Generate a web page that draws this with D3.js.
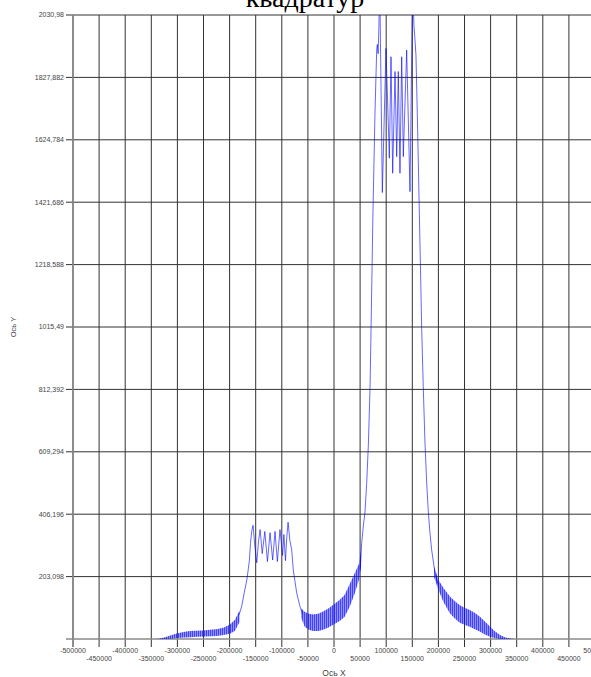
<!DOCTYPE html>
<html>
<head>
<meta charset="utf-8">
<script src="https://cdn.jsdelivr.net/npm/d3@7"></script>
<style>
body { margin: 0; background: #fff; }
svg { display: block; }
</style>
</head>
<body>
<div id="chart"></div>
<script>

var xTicks = [-500000, -450000, -400000, -350000, -300000, -250000, -200000, -150000, -100000, -50000,
              0, 50000, 100000, 150000, 200000, 250000, 300000, 350000, 400000, 450000, 500000];

var yMax = 2030.98;
var yTicks = [203.098, 406.196, 609.294, 812.392, 1015.49, 1218.588, 1421.686, 1624.784, 1827.882, 2030.98];
var yTickLabels = ['203,098', '406,196', '609,294', '812,392', '1015,49', '1218,588', '1421,686', '1624,784', '1827,882', '2030,98'];

// the two lobes, where single swings of the signal can be read: [x, y]
var leftLobe = [
    [-182000, 78], [-177000, 105], [-172000, 150], [-167000, 192], [-164000, 230], [-162000, 257],
    [-160000, 311], [-157500, 352], [-155000, 370], [-151500, 300], [-148000, 248], [-144500, 320],
    [-141500, 356], [-137500, 278], [-132500, 350], [-127500, 252], [-122500, 346], [-117500, 257],
    [-113000, 350], [-108500, 252], [-103500, 356], [-98500, 272], [-96000, 340], [-93000, 255],
    [-90500, 330], [-88000, 380], [-84500, 320], [-81000, 290], [-78000, 225], [-71500, 150],
    [-65000, 105], [-60000, 80]
];

var mainLobe = [
    [50000, 225], [53000, 311], [56000, 365], [59400, 414], [62600, 507], [65800, 631], [69000, 816],
    [71000, 1010], [74500, 1374], [78500, 1711], [81800, 1917], [83000, 1935], [84500, 1905],
    [86000, 1990], [87500, 2150], [92600, 1453], [99600, 1922], [106000, 1565], [109200, 1895],
    [112400, 1516], [116900, 1847], [120100, 1570], [123200, 1847], [126400, 1516], [129700, 1895],
    [132800, 1570], [139200, 1917], [145600, 1456], [150700, 2150], [153000, 2000], [155200, 1950],
    [157000, 1900], [159600, 1711], [163500, 1386], [168000, 1011], [171000, 821], [174300, 637],
    [177600, 507], [180700, 414], [183900, 344], [187100, 290], [193500, 214], [200000, 176]
];

// dense oscillation, only its envelope is readable: [x, low, high]
var leftTail = [
    [-338000, 0, 0], [-325000, 0, 5], [-312000, 1, 12], [-301000, 3, 18], [-288000, 5, 23],
    [-276000, 6, 26], [-263000, 7, 27], [-250000, 8, 28], [-237000, 9, 30], [-225000, 10, 32],
    [-212000, 13, 37], [-200000, 17, 46], [-190000, 26, 62], [-181000, 55, 92]
];

var midValley = [
    [-63000, 70, 100], [-56000, 40, 88], [-48000, 30, 82], [-40000, 26, 80], [-30000, 26, 82],
    [-20000, 31, 90], [-10000, 38, 100], [0, 48, 113], [10000, 58, 126], [20000, 72, 142],
    [30000, 105, 178], [40000, 150, 215], [48000, 195, 245], [52000, 240, 290]
];

var rightTail = [
    [192000, 200, 235], [200000, 160, 192], [210000, 120, 165], [222000, 84, 138], [232000, 66, 122],
    [241000, 53, 110], [250000, 46, 102], [260000, 40, 94], [270000, 32, 85], [280000, 24, 72],
    [290000, 14, 55], [299000, 7, 40], [308000, 3, 25], [318000, 0, 13], [328000, 0, 5],
    [340000, 0, 1], [346000, 0, 0]
];

var width  = 591;
var height = 677;

var plotLeft   = 73;
var plotRight  = 595;
var plotTop    = 15;
var plotBottom = 639;

var x = d3.scaleLinear().domain([-500000, 500000]).range([plotLeft, plotRight]);
var y = d3.scaleLinear().domain([0, yMax]).range([plotBottom, plotTop]);

var svg = d3.select('#chart').append('svg')
    .attr('width', width)
    .attr('height', height)
    .style('font-family', '"Liberation Sans", Arial, sans-serif');

var defs = svg.append('defs');

defs.append('clipPath').attr('id', 'plot')
    .append('rect')
    .attr('x', plotLeft).attr('y', plotTop)
    .attr('width', plotRight - plotLeft).attr('height', plotBottom - plotTop);

var stripes = defs.append('pattern')
    .attr('id', 'osc')
    .attr('patternUnits', 'userSpaceOnUse')
    .attr('width', 2)
    .attr('height', 20);

stripes.append('rect')
    .attr('width', 1)
    .attr('height', 20)
    .attr('fill', '#0000ff')
    .attr('opacity', 0.55);

// title, cut by the top edge
svg.append('text')
    .attr('x', 305)
    .attr('y', 7)
    .attr('text-anchor', 'middle')
    .style('font-family', '"Liberation Serif", "Times New Roman", serif')
    .style('font-size', '28px')
    .attr('fill', '#000')
    .text('квадратур');

// grid
svg.append('g').selectAll('line')
    .data(yTicks)
    .enter().append('line')
    .attr('x1', plotLeft - 7).attr('x2', plotRight)
    .attr('y1', function(d) { return y(d); })
    .attr('y2', function(d) { return y(d); })
    .attr('stroke', '#333')
    .attr('stroke-width', 1);

svg.append('g').selectAll('line')
    .data(xTicks)
    .enter().append('line')
    .attr('x1', function(d) { return x(d); })
    .attr('x2', function(d) { return x(d); })
    .attr('y1', plotTop).attr('y2', plotBottom + 8)
    .attr('stroke', '#333')
    .attr('stroke-width', 1);

// axes
svg.append('line')
    .attr('x1', plotLeft - 7).attr('x2', plotRight)
    .attr('y1', plotBottom).attr('y2', plotBottom)
    .attr('stroke', '#8a8a8a')
    .attr('stroke-width', 1.6);

svg.append('line')
    .attr('x1', plotLeft).attr('x2', plotLeft)
    .attr('y1', plotTop).attr('y2', plotBottom + 8)
    .attr('stroke', '#8a8a8a')
    .attr('stroke-width', 1.6);

// tick labels
svg.append('g').selectAll('text')
    .data(yTicks)
    .enter().append('text')
    .attr('x', plotLeft - 9)
    .attr('y', function(d) { return y(d); })
    .attr('dy', '0.35em')
    .attr('text-anchor', 'end')
    .attr('fill', '#444')
    .style('font-size', '7px')
    .text(function(d, i) { return yTickLabels[i]; });

svg.append('g').selectAll('text')
    .data(xTicks)
    .enter().append('text')
    .attr('x', function(d) { return x(d); })
    .attr('y', function(d, i) { return i % 2 == 0 ? plotBottom + 14 : plotBottom + 21.5; })
    .attr('text-anchor', 'middle')
    .attr('fill', '#444')
    .style('font-size', '7px')
    .text(function(d) { return d; });

svg.append('text')
    .attr('x', x(0))
    .attr('y', 676)
    .attr('text-anchor', 'middle')
    .attr('fill', '#444')
    .style('font-size', '8.5px')
    .text('Ось X');

svg.append('text')
    .attr('transform', 'translate(16,' + ((plotTop + plotBottom) / 2) + ') rotate(-90)')
    .attr('text-anchor', 'middle')
    .attr('fill', '#444')
    .style('font-size', '7.5px')
    .text('Ось Y');

// signal
var plot = svg.append('g').attr('clip-path', 'url(#plot)');

var band = d3.area()
    .x(function(d) { return x(d[0]); })
    .y0(function(d) { return y(d[1]); })
    .y1(function(d) { return y(d[2]); });

[leftTail, midValley, rightTail].forEach(function(tail) {
    plot.append('path')
        .datum(tail)
        .attr('d', band)
        .attr('fill', '#2a2aff')
        .attr('fill-opacity', 0.5);

    plot.append('path')
        .datum(tail)
        .attr('d', band)
        .attr('fill', 'url(#osc)');
});

var line = d3.line()
    .x(function(d) { return x(d[0]); })
    .y(function(d) { return y(d[1]); });

[leftLobe, mainLobe].forEach(function(lobe) {
    plot.append('path')
        .datum(lobe)
        .attr('d', line)
        .attr('fill', 'none')
        .attr('stroke', '#0000ff')
        .attr('stroke-opacity', 0.6)
        .attr('stroke-width', 1);
});

</script>
</body>
</html>
